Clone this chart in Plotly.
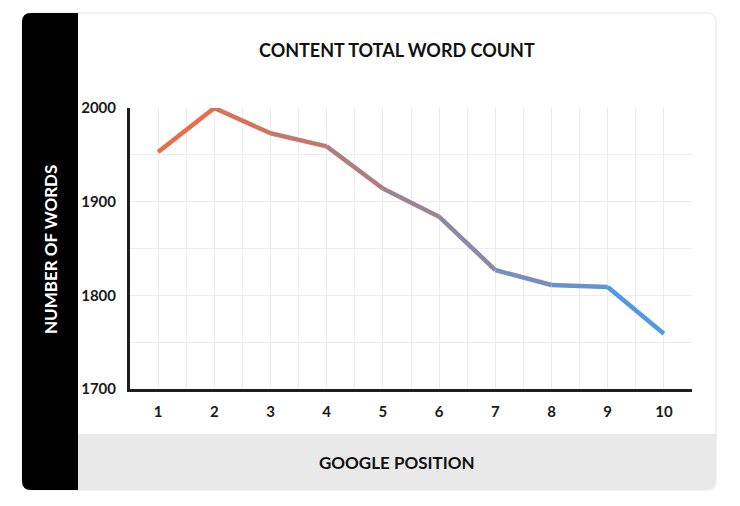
import plotly.graph_objects as go

positions = [1, 2, 3, 4, 5, 6, 7, 8, 9, 10]
words = [1953, 2000, 1973, 1959, 1914, 1884, 1827, 1811, 1809, 1759]
x_ticks = [1, 2, 3, 4, 5, 6, 7, 8, 9, 10]
y_ticks = [1700, 1800, 1900, 2000]

title_text = "CONTENT TOTAL WORD COUNT"
x_title = "GOOGLE POSITION"
y_title = "NUMBER OF WORDS"

W, H = 740, 506
OFF = 8  # page body margin
start_rgb = (242, 106, 60)
end_rgb = (72, 157, 236)


def mix(t):
    r, g, b = (round(a + (c - a) * t) for a, c in zip(start_rgb, end_rgb))
    return f"rgb({r},{g},{b})"


def px(x):
    return (x - OFF) / W


def py(y):
    return 1 - (y - OFF) / H


def rounded_path(x0, y0, x1, y1, r, corners=(True, True, True, True)):
    tl, tr, br, bl = corners
    p = []
    p.append(f"M{px(x0 + (r if tl else 0))},{py(y0)}")
    p.append(f"L{px(x1 - (r if tr else 0))},{py(y0)}")
    if tr:
        p.append(f"Q{px(x1)},{py(y0)} {px(x1)},{py(y0 + r)}")
    p.append(f"L{px(x1)},{py(y1 - (r if br else 0))}")
    if br:
        p.append(f"Q{px(x1)},{py(y1)} {px(x1 - r)},{py(y1)}")
    p.append(f"L{px(x0 + (r if bl else 0))},{py(y1)}")
    if bl:
        p.append(f"Q{px(x0)},{py(y1)} {px(x0)},{py(y1 - r)}")
    p.append(f"L{px(x0)},{py(y0 + (r if tl else 0))}")
    if tl:
        p.append(f"Q{px(x0)},{py(y0)} {px(x0 + r)},{py(y0)}")
    p.append("Z")
    return " ".join(p)


fig = go.Figure()

n = len(positions)
for i in range(n - 1):
    t = (i + 0.5) / (n - 1)
    fig.add_trace(go.Scatter(
        x=positions[i:i + 2], y=words[i:i + 2], mode="lines",
        line=dict(color=mix(t), width=4.5),
        cliponaxis=False, showlegend=False, hoverinfo="skip",
    ))

shapes = [
    dict(type="path", xref="paper", yref="paper", layer="below",
         path=rounded_path(22, 13, 716, 490, 9),
         fillcolor="white", line=dict(color="#e6e6e6", width=1)),
    dict(type="path", xref="paper", yref="paper", layer="below",
         path=rounded_path(78, 434, 716, 490, 9, (False, False, True, False)),
         fillcolor="#e9e9e9", line=dict(width=0)),
    dict(type="path", xref="paper", yref="paper", layer="below",
         path=rounded_path(22, 13, 78, 490, 9, (True, False, False, True)),
         fillcolor="#000000", line=dict(width=0)),
]

font_fam = "Lato, 'Open Sans', sans-serif"
annotations = [
    dict(text=title_text, xref="paper", yref="paper", x=px(397), y=py(50),
         showarrow=False, xanchor="center", yanchor="middle",
         font=dict(family=font_fam, size=18, color="#111111", weight="bold")),
    dict(text=x_title, xref="paper", yref="paper", x=px(397), y=py(462),
         showarrow=False, xanchor="center", yanchor="middle",
         font=dict(family=font_fam, size=17, color="#111111", weight="bold")),
    dict(text=y_title, xref="paper", yref="paper", x=px(50), y=py(250),
         showarrow=False, xanchor="center", yanchor="middle", textangle=-90,
         font=dict(family=font_fam, size=17, color="#ffffff", weight="bold")),
]

fig.update_layout(
    width=W, height=H, autosize=False,
    margin=dict(l=0, r=0, t=0, b=0, pad=0, autoexpand=False),
    paper_bgcolor="white",
    plot_bgcolor="rgba(0,0,0,0)",
    shapes=shapes,
    annotations=annotations,
    xaxis=dict(
        domain=[px(130), px(692)], range=[0.5, 10.5], automargin=False,
        tickvals=x_ticks, ticktext=[str(v) for v in x_ticks],
        showgrid=True, gridcolor="#ececec", gridwidth=1,
        minor=dict(dtick=0.5, tick0=0.5, showgrid=True, gridcolor="#ececec", gridwidth=1),
        showline=True, linecolor="#1e1e1e", linewidth=3,
        zeroline=False, ticks="outside", ticklen=7, tickcolor="rgba(0,0,0,0)",
        tickfont=dict(family=font_fam, size=15, color="#1a1a1a", weight="bold"),
        fixedrange=True,
    ),
    yaxis=dict(
        domain=[py(389), py(108)], range=[1700, 2000], automargin=False,
        tickvals=y_ticks, ticktext=[str(v) for v in y_ticks],
        showgrid=True, gridcolor="#ececec", gridwidth=1,
        minor=dict(dtick=50, tick0=1700, showgrid=True, gridcolor="#ececec", gridwidth=1),
        showline=True, linecolor="#1e1e1e", linewidth=3,
        zeroline=False, ticks="outside", ticklen=8, tickcolor="rgba(0,0,0,0)",
        tickfont=dict(family=font_fam, size=15, color="#1a1a1a", weight="bold"),
        fixedrange=True,
    ),
)

fig.write_html("out.html", config=dict(displayModeBar=False))
